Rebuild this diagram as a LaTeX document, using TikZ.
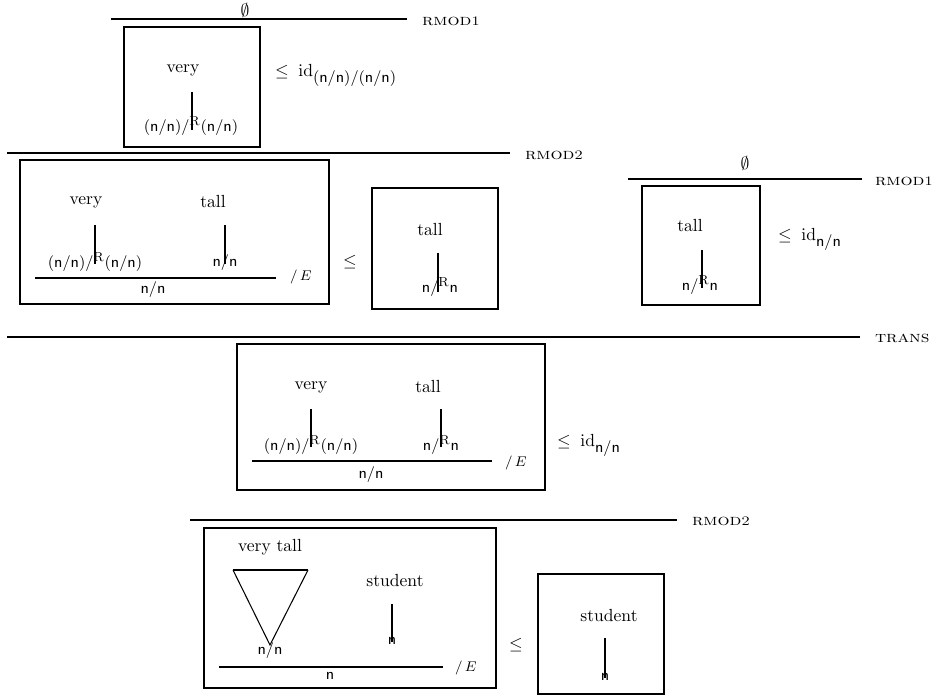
\documentclass[tikz,border=0pt]{standalone}
\usepackage{graphicx}
\begin{document}
\begin{tikzpicture}[x=0.57pt,y=-0.57pt,
  every node/.style={inner sep=0pt,outer sep=0pt},
  frame/.style={line width=1.6pt},
  rulebar/.style={line width=1.4pt},
  stem/.style={line width=1.5pt},
  thin/.style={line width=0.6pt},
  rname/.style={anchor=west,font=\small},
  cat/.style={font=\fontsize{8.6}{10}\selectfont},
  word/.style={font=\normalsize},
  elim/.style={anchor=west,font=\footnotesize}]
\useasboundingbox (0,0) rectangle (940,697);
\newcommand{\catR}[2]{$\mathsf{#1}/^{\mbox{\fontsize{7.5}{8}\selectfont R}}\mathsf{#2}$}
\newcommand{\rulename}[1]{\scalebox{1.2}[1]{\textsc{#1}}}
\newcommand{\idsub}[1]{$\leq\;\mathrm{id}_{\mbox{\fontsize{8.6}{10}\selectfont$\mathsf{#1}$}}$}
% ---- top: RMOD1 on very
\node (e1) at (245,10) {$\emptyset$};
\coordinate (r1a) at (111,19); \coordinate (r1b) at (407,19);
\draw[rulebar] (r1a) -- (r1b);
\node[rname] (l1) at (422,21) {\rulename{rmod\scalebox{0.82}{1}}};
\draw[frame] (124,27) rectangle (260,147);
\node[word] (v1) at (183,70) {very};
\coordinate (s1a) at (192,92); \coordinate (s1b) at (192,130);
\node[cat] (c1) at (191,126) {\catR{(n/n)}{(n/n)}};
\draw[stem] (s1a) -- (s1b);
\node[anchor=west] (i1) at (275,75) {\idsub{(n/n)/(n/n)}};
% ---- RMOD2 (left)
\coordinate (r2a) at (7,153); \coordinate (r2b) at (510,153);
\draw[rulebar] (r2a) -- (r2b);
\node[rname] (l2) at (525,155) {\rulename{rmod\scalebox{0.82}{2}}};
\draw[frame] (20,160) rectangle (329,304);
\node[word] (v2) at (86,202) {very};
\node[word] (t2) at (213,202) {tall};
\node[cat] (c2) at (95,262) {\catR{(n/n)}{(n/n)}};
\node[cat] (c2b) at (225,263) {$\mathsf{n/n}$};
\coordinate (s2a) at (95,225); \coordinate (s2b) at (95,264);
\coordinate (s3a) at (225,225); \coordinate (s3b) at (225,264);
\draw[stem] (s2a) -- (s2b);
\draw[stem] (s3a) -- (s3b);
\coordinate (e2a) at (35,278); \coordinate (e2b) at (276,278);
\draw[rulebar] (e2a) -- (e2b);
\node[cat] (c2c) at (153,290) {$\mathsf{n/n}$};
\node[elim] (E2) at (290,277) {$/\,E$};
\node (le2) at (350,262) {$\leq$};
\draw[frame] (372,188) rectangle (498,309);
\node[word] (t3) at (430,230) {tall};
\node[cat] (c3) at (440,287) {\catR{n}{n}};
\coordinate (s4a) at (438,253); \coordinate (s4b) at (438,292);
\draw[stem] (s4a) -- (s4b);
% ---- right: RMOD1 on tall
\node (e4) at (745,163) {$\emptyset$};
\coordinate (r4a) at (628,179); \coordinate (r4b) at (862,179);
\draw[rulebar] (r4a) -- (r4b);
\node[rname] (l4) at (875,181) {\rulename{rmod\scalebox{0.82}{1}}};
\draw[frame] (642,186) rectangle (760,305);
\node[word] (t4) at (690,226) {tall};
\node[cat] (c4) at (700,285) {\catR{n}{n}};
\coordinate (s5a) at (702,250); \coordinate (s5b) at (702,288);
\draw[stem] (s5a) -- (s5b);
\node[anchor=west] (i4) at (778,239) {\idsub{n/n}};
% ---- TRANS
\coordinate (r5a) at (7,337); \coordinate (r5b) at (860,337);
\draw[rulebar] (r5a) -- (r5b);
\node[rname] (l5) at (875,338) {\rulename{trans}};
\draw[frame] (237,344) rectangle (545,490);
\node[word] (v5) at (311,387) {very};
\node[word] (t5) at (428,387) {tall};
\node[cat] (c5) at (311,445) {\catR{(n/n)}{(n/n)}};
\node[cat] (c5b) at (441,445) {\catR{n}{n}};
\coordinate (s6a) at (311,409); \coordinate (s6b) at (311,447);
\coordinate (s7a) at (441,409); \coordinate (s7b) at (441,447);
\draw[stem] (s6a) -- (s6b);
\draw[stem] (s7a) -- (s7b);
\coordinate (e5a) at (252,461); \coordinate (e5b) at (492,461);
\draw[rulebar] (e5a) -- (e5b);
\node[cat] (c5c) at (371,475) {$\mathsf{n/n}$};
\node[elim] (E5) at (505,463) {$/\,E$};
\node[anchor=west] (i5) at (557,445) {\idsub{n/n}};
% ---- RMOD2 (bottom)
\coordinate (r6a) at (190,520); \coordinate (r6b) at (677,520);
\draw[rulebar] (r6a) -- (r6b);
\node[rname] (l6) at (692,521) {\rulename{rmod\scalebox{0.82}{2}}};
\draw[frame] (204,528) rectangle (496,688);
\node[word] (vt6) at (270,547) {very tall};
\coordinate (tra) at (233,570); \coordinate (trb) at (308,570); \coordinate (trc) at (270,645);
\draw[thin] (tra) -- (trc) -- (trb);
\draw[rulebar] (tra) -- (trb);
\node[cat] (c6) at (270,651) {$\mathsf{n/n}$};
\node[word] (st6) at (395,581) {student};
\node[cat] (c6b) at (392,641) {$\mathsf{n}$};
\coordinate (s8a) at (392,604); \coordinate (s8b) at (392,642);
\draw[stem] (s8a) -- (s8b);
\coordinate (e6a) at (219,667); \coordinate (e6b) at (443,667);
\draw[rulebar] (e6a) -- (e6b);
\node[cat] (c6c) at (330,676) {$\mathsf{n}$};
\node[elim] (E6) at (455,668) {$/\,E$};
\node (le6) at (516,645) {$\leq$};
\draw[frame] (538,574) rectangle (664,694);
\node[word] (st7) at (609,616) {student};
\node[cat] (c7) at (605,677) {$\mathsf{n}$};
\coordinate (s9a) at (605,638); \coordinate (s9b) at (605,678);
\draw[stem] (s9a) -- (s9b);
\end{tikzpicture}
\end{document}
